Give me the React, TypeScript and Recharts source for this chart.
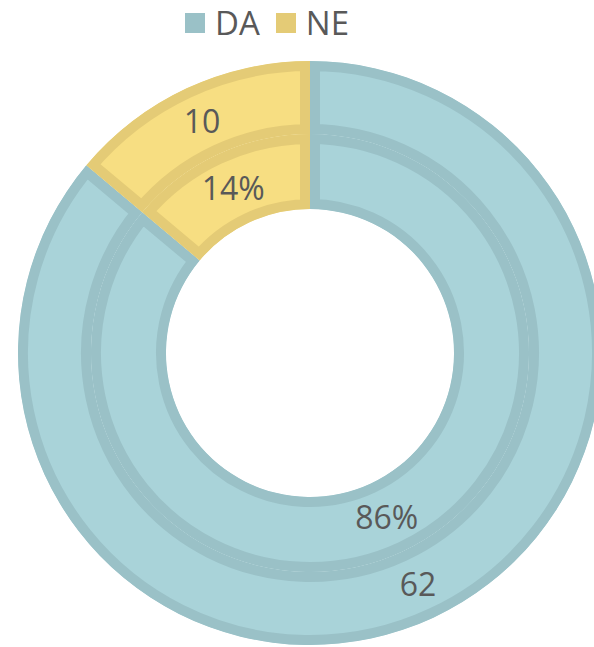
import React from 'react';
import { PieChart, Pie, Cell, Sector } from 'recharts';

const categories = ['DA', 'NE'];
const counts = [62, 10];

const data = categories.map((name, i) => ({ name, value: counts[i] }));

const FILL: Record<string, string> = { DA: '#A9D3D9', NE: '#F7DE82' };
const BORDER: Record<string, string> = { DA: '#9AC1C7', NE: '#E4CB76' };
const TEXT = '#595959';
const FONT = '"Open Sans", "DejaVu Sans", sans-serif';
const RAD = Math.PI / 180;

const makeShape = (ring: string) => (props: any) => {
  const { cx, cy, innerRadius, outerRadius, startAngle, endAngle } = props;
  const name = props?.payload?.name ?? props?.name;
  const id = `clip-${ring}-${name}`;
  return (
    <g>
      <defs>
        <clipPath id={id}>
          <Sector cx={cx} cy={cy} innerRadius={innerRadius} outerRadius={outerRadius} startAngle={startAngle} endAngle={endAngle} />
        </clipPath>
      </defs>
      <Sector
        cx={cx}
        cy={cy}
        innerRadius={innerRadius}
        outerRadius={outerRadius}
        startAngle={startAngle}
        endAngle={endAngle}
        fill={FILL[name]}
        stroke={BORDER[name]}
        strokeWidth={20}
        clipPath={`url(#${id})`}
      />
    </g>
  );
};

const makeLabel = (mode: 'value' | 'percent') => (props: any) => {
  const { cx, cy, midAngle, innerRadius, outerRadius, value, percent } = props;
  const r = (innerRadius + outerRadius) / 2;
  const x = cx + r * Math.cos(-midAngle * RAD);
  const y = cy + r * Math.sin(-midAngle * RAD);
  const fs = 32;
  const txt = mode === 'value' ? String(value) : `${Math.round(percent * 100)}%`;
  return (
    <text x={x} y={y + fs * 0.36} textAnchor="middle" fill={TEXT} fontSize={fs} fontFamily={FONT} fontWeight={500}>
      {txt}
    </text>
  );
};

const outerShape = makeShape('outer');
const innerShape = makeShape('inner');
const outerLabel = makeLabel('value');
const innerLabel = makeLabel('percent');

export default function App() {
  return (
    <div style={{ position: 'absolute', left: 0, top: 0, width: 594, height: 647, overflow: 'hidden', background: '#fff' }}>
      <div
        style={{
          position: 'absolute',
          left: 185,
          top: 6,
          display: 'flex',
          alignItems: 'center',
          fontFamily: FONT,
          fontSize: 33,
          lineHeight: '34px',
          color: TEXT,
          zIndex: 2,
        }}
      >
        {categories.map((c, i) => (
          <div key={c} style={{ display: 'flex', alignItems: 'center', marginRight: i === 0 ? 16 : 0 }}>
            <span style={{ display: 'inline-block', width: 20, height: 20, background: BORDER[c], marginRight: 10 }} />
            <span>{c}</span>
          </div>
        ))}
      </div>
      <PieChart width={594} height={647} margin={{ top: 0, right: 0, bottom: 0, left: 0 }}>
        <Pie
          data={data}
          dataKey="value"
          nameKey="name"
          cx={310}
          cy={353}
          innerRadius={219}
          outerRadius={292}
          startAngle={90}
          endAngle={-270}
          isAnimationActive={false}
          stroke="none"
          shape={outerShape}
          label={outerLabel}
          labelLine={false}
        >
          {data.map((d) => (
            <Cell key={d.name} fill={FILL[d.name]} />
          ))}
        </Pie>
        <Pie
          data={data}
          dataKey="value"
          nameKey="name"
          cx={310}
          cy={353}
          innerRadius={144}
          outerRadius={219}
          startAngle={90}
          endAngle={-270}
          isAnimationActive={false}
          stroke="none"
          shape={innerShape}
          label={innerLabel}
          labelLine={false}
        >
          {data.map((d) => (
            <Cell key={d.name} fill={FILL[d.name]} />
          ))}
        </Pie>
      </PieChart>
    </div>
  );
}
